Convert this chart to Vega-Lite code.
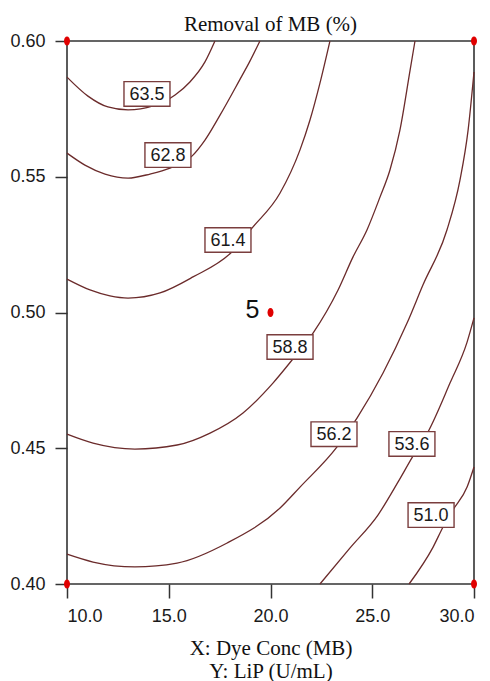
{
  "$schema": "https://vega.github.io/schema/vega-lite/v6.json",
  "autosize": "none",
  "width": 407,
  "height": 543,
  "padding": {"left": 67, "top": 41, "right": 16, "bottom": 97},
  "background": "white",
  "title": {"text": "Removal of MB (%)", "font": "Liberation Serif", "fontSize": 21, "fontWeight": "normal", "color": "#111", "anchor": "middle", "frame": "group", "baseline": "alphabetic", "offset": 11, "dy": 37},
  "config": {
    "view": {"stroke": "#333", "strokeWidth": 1.6},
    "axis": {"grid": false, "domain": false, "tickColor": "#333", "tickWidth": 1.5, "labelFont": "Liberation Sans", "labelFontSize": 18, "labelColor": "#1a1a1a", "titleFont": "Liberation Serif", "titleFontSize": 21, "titleFontWeight": "normal", "titleColor": "#111"}
  },
  "datasets": {
    "lines": [
      {"level": "63.5", "i": 0, "x": 10.0, "y": 0.5867},
      {"level": "63.5", "i": 1, "x": 11.03, "y": 0.5797},
      {"level": "63.5", "i": 2, "x": 12.01, "y": 0.5757},
      {"level": "63.5", "i": 3, "x": 13.0, "y": 0.5746},
      {"level": "63.5", "i": 4, "x": 14.23, "y": 0.5761},
      {"level": "63.5", "i": 5, "x": 15.31, "y": 0.5801},
      {"level": "63.5", "i": 6, "x": 16.04, "y": 0.5849},
      {"level": "63.5", "i": 7, "x": 16.78, "y": 0.5923},
      {"level": "63.5", "i": 8, "x": 17.27, "y": 0.6},
      {"level": "62.8", "i": 0, "x": 10.0, "y": 0.5587},
      {"level": "62.8", "i": 1, "x": 10.88, "y": 0.5543},
      {"level": "62.8", "i": 2, "x": 11.87, "y": 0.551},
      {"level": "62.8", "i": 3, "x": 13.0, "y": 0.5495},
      {"level": "62.8", "i": 4, "x": 14.08, "y": 0.551},
      {"level": "62.8", "i": 5, "x": 15.06, "y": 0.5532},
      {"level": "62.8", "i": 6, "x": 16.14, "y": 0.5576},
      {"level": "62.8", "i": 7, "x": 16.78, "y": 0.5635},
      {"level": "62.8", "i": 8, "x": 17.52, "y": 0.5727},
      {"level": "62.8", "i": 9, "x": 18.48, "y": 0.5856},
      {"level": "62.8", "i": 10, "x": 18.97, "y": 0.5923},
      {"level": "62.8", "i": 11, "x": 19.48, "y": 0.6},
      {"level": "61.4", "i": 0, "x": 10.0, "y": 0.5123},
      {"level": "61.4", "i": 1, "x": 11.13, "y": 0.5083},
      {"level": "61.4", "i": 2, "x": 12.11, "y": 0.5061},
      {"level": "61.4", "i": 3, "x": 13.0, "y": 0.5053},
      {"level": "61.4", "i": 4, "x": 14.57, "y": 0.5072},
      {"level": "61.4", "i": 5, "x": 16.19, "y": 0.5131},
      {"level": "61.4", "i": 6, "x": 18.1, "y": 0.5223},
      {"level": "61.4", "i": 7, "x": 19.09, "y": 0.5311},
      {"level": "61.4", "i": 8, "x": 20.47, "y": 0.544},
      {"level": "61.4", "i": 9, "x": 21.45, "y": 0.5599},
      {"level": "61.4", "i": 10, "x": 21.94, "y": 0.5709},
      {"level": "61.4", "i": 11, "x": 22.43, "y": 0.5845},
      {"level": "61.4", "i": 12, "x": 22.92, "y": 0.6},
      {"level": "58.8", "i": 0, "x": 10.0, "y": 0.4552},
      {"level": "58.8", "i": 1, "x": 11.28, "y": 0.4519},
      {"level": "58.8", "i": 2, "x": 13.34, "y": 0.4497},
      {"level": "58.8", "i": 3, "x": 15.41, "y": 0.4512},
      {"level": "58.8", "i": 4, "x": 17.03, "y": 0.4556},
      {"level": "58.8", "i": 5, "x": 18.65, "y": 0.463},
      {"level": "58.8", "i": 6, "x": 20.12, "y": 0.474},
      {"level": "58.8", "i": 7, "x": 21.06, "y": 0.4825},
      {"level": "58.8", "i": 8, "x": 22.09, "y": 0.4924},
      {"level": "58.8", "i": 9, "x": 23.32, "y": 0.5083},
      {"level": "58.8", "i": 10, "x": 24.05, "y": 0.5204},
      {"level": "58.8", "i": 11, "x": 24.74, "y": 0.5304},
      {"level": "58.8", "i": 12, "x": 25.38, "y": 0.5425},
      {"level": "58.8", "i": 13, "x": 25.87, "y": 0.5525},
      {"level": "58.8", "i": 14, "x": 26.36, "y": 0.5672},
      {"level": "58.8", "i": 15, "x": 26.86, "y": 0.5893},
      {"level": "58.8", "i": 16, "x": 27.1, "y": 0.6},
      {"level": "56.2", "i": 0, "x": 10.0, "y": 0.411},
      {"level": "56.2", "i": 1, "x": 11.28, "y": 0.4081},
      {"level": "56.2", "i": 2, "x": 13.34, "y": 0.4063},
      {"level": "56.2", "i": 3, "x": 15.41, "y": 0.4077},
      {"level": "56.2", "i": 4, "x": 17.87, "y": 0.4151},
      {"level": "56.2", "i": 5, "x": 20.47, "y": 0.428},
      {"level": "56.2", "i": 6, "x": 21.45, "y": 0.4357},
      {"level": "56.2", "i": 7, "x": 23.27, "y": 0.4505},
      {"level": "56.2", "i": 8, "x": 24.25, "y": 0.4611},
      {"level": "56.2", "i": 9, "x": 25.53, "y": 0.4777},
      {"level": "56.2", "i": 10, "x": 26.71, "y": 0.4961},
      {"level": "56.2", "i": 11, "x": 27.49, "y": 0.5101},
      {"level": "56.2", "i": 12, "x": 28.67, "y": 0.5304},
      {"level": "56.2", "i": 13, "x": 29.31, "y": 0.5488},
      {"level": "56.2", "i": 14, "x": 29.71, "y": 0.5672},
      {"level": "56.2", "i": 15, "x": 30.0, "y": 0.5886},
      {"level": "53.6", "i": 0, "x": 22.43, "y": 0.4},
      {"level": "53.6", "i": 1, "x": 23.91, "y": 0.4133},
      {"level": "53.6", "i": 2, "x": 25.28, "y": 0.4254},
      {"level": "53.6", "i": 3, "x": 26.27, "y": 0.4376},
      {"level": "53.6", "i": 4, "x": 27.0, "y": 0.4471},
      {"level": "53.6", "i": 5, "x": 27.74, "y": 0.456},
      {"level": "53.6", "i": 6, "x": 28.82, "y": 0.474},
      {"level": "53.6", "i": 7, "x": 29.66, "y": 0.4891},
      {"level": "53.6", "i": 8, "x": 30.0, "y": 0.498},
      {"level": "51.0", "i": 0, "x": 26.81, "y": 0.4},
      {"level": "51.0", "i": 1, "x": 27.99, "y": 0.4136},
      {"level": "51.0", "i": 2, "x": 28.48, "y": 0.421},
      {"level": "51.0", "i": 3, "x": 28.97, "y": 0.4273},
      {"level": "51.0", "i": 4, "x": 29.66, "y": 0.4357},
      {"level": "51.0", "i": 5, "x": 30.0, "y": 0.4431}
    ],
    "labels": [
      {"label": "63.5", "x": 13.93, "y": 0.5805},
      {"label": "62.8", "x": 14.96, "y": 0.558},
      {"label": "61.4", "x": 17.91, "y": 0.5267},
      {"label": "58.8", "x": 20.96, "y": 0.4873},
      {"label": "56.2", "x": 23.12, "y": 0.4552},
      {"label": "53.6", "x": 26.95, "y": 0.4516},
      {"label": "51.0", "x": 27.89, "y": 0.4254}
    ],
    "design": [
      {"x": 10, "y": 0.4, "n": ""},
      {"x": 10, "y": 0.6, "n": ""},
      {"x": 30, "y": 0.4, "n": ""},
      {"x": 30, "y": 0.6, "n": ""},
      {"x": 20, "y": 0.5, "n": "5"}
    ]
  },
  "encoding": {
    "x": {"field": "x", "type": "quantitative", "scale": {"domain": [10, 30], "nice": false, "zero": false},
      "axis": {"values": [10, 15, 20, 25, 30], "format": ".1f", "tickSize": 14, "labelPadding": 9, "title": ["X: Dye Conc (MB)", "Y: LiP (U/mL)"], "titleLineHeight": 23, "titlePadding": 12}},
    "y": {"field": "y", "type": "quantitative", "scale": {"domain": [0.4, 0.6], "nice": false, "zero": false},
      "axis": {"values": [0.4, 0.45, 0.5, 0.55, 0.6], "format": ".2f", "tickSize": 12, "labelPadding": 10, "title": null}}
  },
  "layer": [
    {
      "data": {"name": "lines"},
      "mark": {"type": "line", "color": "#6b2b2b", "strokeWidth": 1.3, "interpolate": "monotone"},
      "encoding": {"detail": {"field": "level"}, "order": {"field": "i", "type": "quantitative"}}
    },
    {
      "data": {"name": "labels"},
      "mark": {"type": "point", "shape": "M-1.87,-1H1.87V1H-1.87Z", "size": 605, "filled": false, "fill": "white", "fillOpacity": 1, "stroke": "#7a3d3d", "strokeWidth": 1.4, "opacity": 1}
    },
    {
      "data": {"name": "labels"},
      "mark": {"type": "text", "font": "Liberation Sans", "fontSize": 18, "color": "#1a1a1a", "baseline": "middle", "align": "center", "dy": 1},
      "encoding": {"text": {"field": "label"}}
    },
    {
      "data": {"name": "design"},
      "mark": {"type": "point", "shape": "M0,-1C0.359,-1 0.65,-0.552 0.65,0C0.65,0.552 0.359,1 0,1C-0.359,1 -0.65,0.552 -0.65,0C-0.65,-0.552 -0.359,-1 0,-1Z", "size": 85, "filled": true, "color": "#e00000", "opacity": 1}
    },
    {
      "data": {"name": "design"},
      "mark": {"type": "text", "font": "Liberation Sans", "fontSize": 25, "color": "#111", "align": "right", "baseline": "alphabetic", "dx": -11, "dy": 5},
      "encoding": {"text": {"field": "n"}}
    }
  ]
}
